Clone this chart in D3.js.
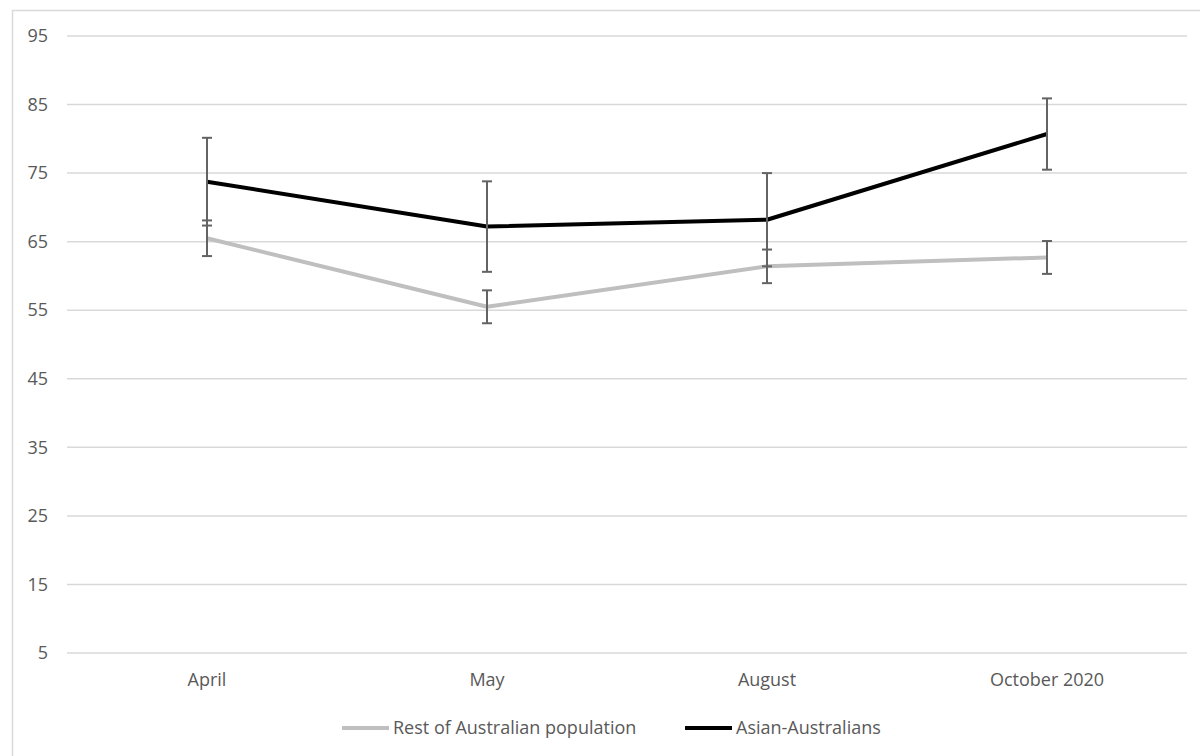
<!DOCTYPE html>
<html>
<head>
<meta charset="utf-8">
<script src="https://cdn.jsdelivr.net/npm/d3@7"></script>
<style>
  body { margin: 0; background: #fff; }
  svg { display: block; font-family: 'Open Sans', sans-serif; }
</style>
</head>
<body>
<div id="wrapper"></div>
<script>
// data
const months = ['April', 'May', 'August', 'October 2020'];
const restValues = [65.5, 55.5, 61.4, 62.7];
const restErrors = [2.6, 2.4, 2.45, 2.4];
const asianValues = [73.75, 67.2, 68.2, 80.7];
const asianErrors = [6.4, 6.6, 6.8, 5.2];
const yTicks = [5, 15, 25, 35, 45, 55, 65, 75, 85, 95];
const seriesNames = ['Rest of Australian population', 'Asian-Australians'];

const fontSize = '18px';

const dimensions = {
  width: 1200,
  height: 756,
  margin: { top: 36, right: 13, bottom: 103, left: 67 },
};
dimensions.boundedWidth = dimensions.width - dimensions.margin.left - dimensions.margin.right;
dimensions.boundedHeight = dimensions.height - dimensions.margin.top - dimensions.margin.bottom;

const wrapper = d3.select('#wrapper')
  .append('svg')
  .attr('width', dimensions.width)
  .attr('height', dimensions.height);

// chart frame
wrapper.append('rect')
  .attr('x', 12.5).attr('y', 10.5)
  .attr('width', 1300).attr('height', 900)
  .attr('fill', 'none')
  .attr('stroke', '#d9d9d9')
  .attr('stroke-width', 1.5);

const bounds = wrapper.append('g')
  .attr('transform', `translate(${dimensions.margin.left},${dimensions.margin.top})`);

// scales
const xScale = d3.scaleBand()
  .domain(months)
  .range([0, dimensions.boundedWidth]);

const yScale = d3.scaleLinear()
  .domain([5, 95])
  .range([dimensions.boundedHeight, 0]);

const xPos = (d) => xScale(d) + xScale.bandwidth() / 2;

// gridlines
bounds.append('g')
  .selectAll('line')
  .data(yTicks)
  .join('line')
  .attr('x1', 0)
  .attr('x2', dimensions.boundedWidth)
  .attr('y1', (d) => yScale(d))
  .attr('y2', (d) => yScale(d))
  .attr('stroke', '#d9d9d9')
  .attr('stroke-width', 1.5);

// y axis labels
const yAxis = bounds.append('g')
  .call(d3.axisLeft(yScale).tickValues(yTicks).tickSize(0).tickPadding(19));
yAxis.select('.domain').remove();
yAxis.selectAll('text')
  .attr('fill', '#595959')
  .style('font-family', "'Open Sans', sans-serif")
  .style('font-size', fontSize);

// x axis labels
const xAxis = bounds.append('g')
  .attr('transform', `translate(0,${dimensions.boundedHeight})`)
  .call(d3.axisBottom(xScale).tickSize(0).tickPadding(20));
xAxis.select('.domain').remove();
xAxis.selectAll('text')
  .attr('fill', '#595959')
  .style('font-family', "'Open Sans', sans-serif")
  .style('font-size', fontSize);

// lines
const series = [
  { name: seriesNames[0], values: restValues, errors: restErrors, color: '#bfbfbf' },
  { name: seriesNames[1], values: asianValues, errors: asianErrors, color: '#000000' },
];

const lineGen = d3.line()
  .x((d, i) => xPos(months[i]))
  .y((d) => yScale(d));

series.forEach((s) => {
  bounds.append('path')
    .datum(s.values)
    .attr('d', lineGen)
    .attr('fill', 'none')
    .attr('stroke', s.color)
    .attr('stroke-width', 4)
    .attr('stroke-linejoin', 'round');
});

// error bars
series.forEach((s) => {
  const g = bounds.append('g').attr('stroke', '#636363').attr('stroke-width', 2);
  s.values.forEach((v, i) => {
    const x = xPos(months[i]);
    const top = yScale(v + s.errors[i]);
    const bottom = yScale(v - s.errors[i]);
    g.append('line').attr('x1', x).attr('x2', x).attr('y1', top).attr('y2', bottom);
    g.append('line').attr('x1', x - 5).attr('x2', x + 5).attr('y1', top).attr('y2', top);
    g.append('line').attr('x1', x - 5).attr('x2', x + 5).attr('y1', bottom).attr('y2', bottom);
  });
});

// legend
const legend = wrapper.append('g').attr('transform', 'translate(0,728)');
const legendItems = [
  { name: seriesNames[0], color: '#bfbfbf', x: 342 },
  { name: seriesNames[1], color: '#000000', x: 685 },
];
legendItems.forEach((item) => {
  legend.append('line')
    .attr('x1', item.x).attr('x2', item.x + 47)
    .attr('y1', 0).attr('y2', 0)
    .attr('stroke', item.color)
    .attr('stroke-width', 4);
  legend.append('text')
    .attr('x', item.x + 51)
    .attr('y', 0)
    .attr('dy', '0.35em')
    .attr('fill', '#595959')
    .style('font-size', fontSize)
    .text(item.name);
});
</script>
</body>
</html>
